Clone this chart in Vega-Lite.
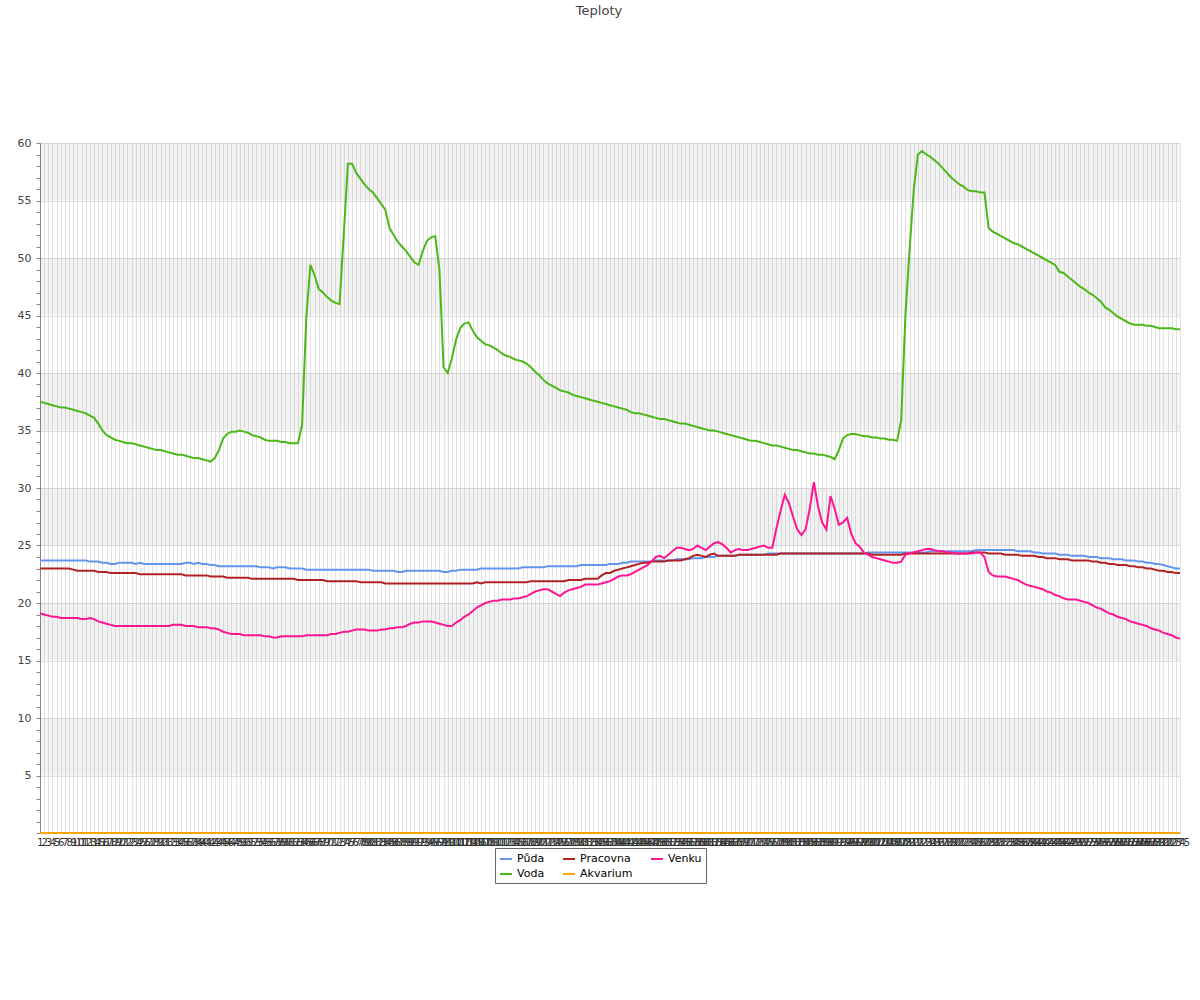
{
"$schema":"https://vega.github.io/schema/vega-lite/v6.json",
"width":1140,"height":690,
"autosize":{"type":"none"},
"padding":{"left":40,"top":143,"right":20,"bottom":167},
"background":"white",
"title":{"text":"Teploty","fontSize":13,"fontWeight":"normal","color":"#444","font":"DejaVu Sans","offset":119,"anchor":"middle","dx":-11},
"config":{"view":{"stroke":null},"font":"DejaVu Sans"},
"layer":[
{"data":{"values":[{"lo":5,"hi":10},{"lo":15,"hi":20},{"lo":25,"hi":30},{"lo":35,"hi":40},{"lo":45,"hi":50},{"lo":55,"hi":60}]},
"mark":{"type":"rect","fill":"#000","fillOpacity":0.05},
"encoding":{"y":{"field":"lo","type":"quantitative","scale":{"domain":[0,60],"nice":false},"axis":{"title":null,"values":[0,1,2,3,4,5,6,7,8,9,10,11,12,13,14,15,16,17,18,19,20,21,22,23,24,25,26,27,28,29,30,31,32,33,34,35,36,37,38,39,40,41,42,43,44,45,46,47,48,49,50,51,52,53,54,55,56,57,58,59,60],"labelExpr":"datum.value % 5 === 0 && datum.value > 0 ? datum.label : ''","grid":true,"gridColor":"#dedede","gridOpacity":{"condition":{"test":"datum.value % 5 === 0","value":1},"value":0},"tickSize":4,"tickColor":"#888","domainColor":"#888","labelFontSize":11,"labelColor":"#444","labelFont":"DejaVu Sans","labelPadding":5}},"y2":{"field":"hi"}}},
{"data":{"values":[
{"i":1,"Půda":23.7,"Voda":37.5,"Pracovna":23.0,"Akvarium":0,"Venku":19.1},
{"i":2,"Půda":23.7,"Voda":37.4,"Pracovna":23.0,"Akvarium":0,"Venku":19.0},
{"i":3,"Půda":23.7,"Voda":37.3,"Pracovna":23.0,"Akvarium":0,"Venku":18.9},
{"i":4,"Půda":23.7,"Voda":37.2,"Pracovna":23.0,"Akvarium":0,"Venku":18.8},
{"i":5,"Půda":23.7,"Voda":37.1,"Pracovna":23.0,"Akvarium":0,"Venku":18.8},
{"i":6,"Půda":23.7,"Voda":37.0,"Pracovna":23.0,"Akvarium":0,"Venku":18.7},
{"i":7,"Půda":23.7,"Voda":37.0,"Pracovna":23.0,"Akvarium":0,"Venku":18.7},
{"i":8,"Půda":23.7,"Voda":36.9,"Pracovna":23.0,"Akvarium":0,"Venku":18.7},
{"i":9,"Půda":23.7,"Voda":36.8,"Pracovna":22.9,"Akvarium":0,"Venku":18.7},
{"i":10,"Půda":23.7,"Voda":36.7,"Pracovna":22.8,"Akvarium":0,"Venku":18.7},
{"i":11,"Půda":23.7,"Voda":36.6,"Pracovna":22.8,"Akvarium":0,"Venku":18.6},
{"i":12,"Půda":23.7,"Voda":36.5,"Pracovna":22.8,"Akvarium":0,"Venku":18.6},
{"i":13,"Půda":23.6,"Voda":36.3,"Pracovna":22.8,"Akvarium":0,"Venku":18.7},
{"i":14,"Půda":23.6,"Voda":36.1,"Pracovna":22.8,"Akvarium":0,"Venku":18.6},
{"i":15,"Půda":23.6,"Voda":35.6,"Pracovna":22.7,"Akvarium":0,"Venku":18.4},
{"i":16,"Půda":23.5,"Voda":35.0,"Pracovna":22.7,"Akvarium":0,"Venku":18.3},
{"i":17,"Půda":23.5,"Voda":34.6,"Pracovna":22.7,"Akvarium":0,"Venku":18.2},
{"i":18,"Půda":23.4,"Voda":34.4,"Pracovna":22.6,"Akvarium":0,"Venku":18.1},
{"i":19,"Půda":23.4,"Voda":34.2,"Pracovna":22.6,"Akvarium":0,"Venku":18.0},
{"i":20,"Půda":23.5,"Voda":34.1,"Pracovna":22.6,"Akvarium":0,"Venku":18.0},
{"i":21,"Půda":23.5,"Voda":34.0,"Pracovna":22.6,"Akvarium":0,"Venku":18.0},
{"i":22,"Půda":23.5,"Voda":33.9,"Pracovna":22.6,"Akvarium":0,"Venku":18.0},
{"i":23,"Půda":23.5,"Voda":33.9,"Pracovna":22.6,"Akvarium":0,"Venku":18.0},
{"i":24,"Půda":23.4,"Voda":33.8,"Pracovna":22.6,"Akvarium":0,"Venku":18.0},
{"i":25,"Půda":23.5,"Voda":33.7,"Pracovna":22.5,"Akvarium":0,"Venku":18.0},
{"i":26,"Půda":23.4,"Voda":33.6,"Pracovna":22.5,"Akvarium":0,"Venku":18.0},
{"i":27,"Půda":23.4,"Voda":33.5,"Pracovna":22.5,"Akvarium":0,"Venku":18.0},
{"i":28,"Půda":23.4,"Voda":33.4,"Pracovna":22.5,"Akvarium":0,"Venku":18.0},
{"i":29,"Půda":23.4,"Voda":33.3,"Pracovna":22.5,"Akvarium":0,"Venku":18.0},
{"i":30,"Půda":23.4,"Voda":33.3,"Pracovna":22.5,"Akvarium":0,"Venku":18.0},
{"i":31,"Půda":23.4,"Voda":33.2,"Pracovna":22.5,"Akvarium":0,"Venku":18.0},
{"i":32,"Půda":23.4,"Voda":33.1,"Pracovna":22.5,"Akvarium":0,"Venku":18.0},
{"i":33,"Půda":23.4,"Voda":33.0,"Pracovna":22.5,"Akvarium":0,"Venku":18.1},
{"i":34,"Půda":23.4,"Voda":32.9,"Pracovna":22.5,"Akvarium":0,"Venku":18.1},
{"i":35,"Půda":23.4,"Voda":32.9,"Pracovna":22.5,"Akvarium":0,"Venku":18.1},
{"i":36,"Půda":23.5,"Voda":32.8,"Pracovna":22.4,"Akvarium":0,"Venku":18.0},
{"i":37,"Půda":23.5,"Voda":32.7,"Pracovna":22.4,"Akvarium":0,"Venku":18.0},
{"i":38,"Půda":23.4,"Voda":32.6,"Pracovna":22.4,"Akvarium":0,"Venku":18.0},
{"i":39,"Půda":23.5,"Voda":32.6,"Pracovna":22.4,"Akvarium":0,"Venku":17.9},
{"i":40,"Půda":23.4,"Voda":32.5,"Pracovna":22.4,"Akvarium":0,"Venku":17.9},
{"i":41,"Půda":23.4,"Voda":32.4,"Pracovna":22.4,"Akvarium":0,"Venku":17.9},
{"i":42,"Půda":23.3,"Voda":32.3,"Pracovna":22.3,"Akvarium":0,"Venku":17.8},
{"i":43,"Půda":23.3,"Voda":32.6,"Pracovna":22.3,"Akvarium":0,"Venku":17.8},
{"i":44,"Půda":23.2,"Voda":33.3,"Pracovna":22.3,"Akvarium":0,"Venku":17.7},
{"i":45,"Půda":23.2,"Voda":34.3,"Pracovna":22.3,"Akvarium":0,"Venku":17.5},
{"i":46,"Půda":23.2,"Voda":34.7,"Pracovna":22.2,"Akvarium":0,"Venku":17.4},
{"i":47,"Půda":23.2,"Voda":34.9,"Pracovna":22.2,"Akvarium":0,"Venku":17.3},
{"i":48,"Půda":23.2,"Voda":34.9,"Pracovna":22.2,"Akvarium":0,"Venku":17.3},
{"i":49,"Půda":23.2,"Voda":35.0,"Pracovna":22.2,"Akvarium":0,"Venku":17.3},
{"i":50,"Půda":23.2,"Voda":34.9,"Pracovna":22.2,"Akvarium":0,"Venku":17.2},
{"i":51,"Půda":23.2,"Voda":34.8,"Pracovna":22.2,"Akvarium":0,"Venku":17.2},
{"i":52,"Půda":23.2,"Voda":34.6,"Pracovna":22.1,"Akvarium":0,"Venku":17.2},
{"i":53,"Půda":23.2,"Voda":34.5,"Pracovna":22.1,"Akvarium":0,"Venku":17.2},
{"i":54,"Půda":23.1,"Voda":34.4,"Pracovna":22.1,"Akvarium":0,"Venku":17.2},
{"i":55,"Půda":23.1,"Voda":34.2,"Pracovna":22.1,"Akvarium":0,"Venku":17.1},
{"i":56,"Půda":23.1,"Voda":34.1,"Pracovna":22.1,"Akvarium":0,"Venku":17.1},
{"i":57,"Půda":23.0,"Voda":34.1,"Pracovna":22.1,"Akvarium":0,"Venku":17.0},
{"i":58,"Půda":23.1,"Voda":34.1,"Pracovna":22.1,"Akvarium":0,"Venku":17.0},
{"i":59,"Půda":23.1,"Voda":34.0,"Pracovna":22.1,"Akvarium":0,"Venku":17.1},
{"i":60,"Půda":23.1,"Voda":34.0,"Pracovna":22.1,"Akvarium":0,"Venku":17.1},
{"i":61,"Půda":23.0,"Voda":33.9,"Pracovna":22.1,"Akvarium":0,"Venku":17.1},
{"i":62,"Půda":23.0,"Voda":33.9,"Pracovna":22.1,"Akvarium":0,"Venku":17.1},
{"i":63,"Půda":23.0,"Voda":33.9,"Pracovna":22.0,"Akvarium":0,"Venku":17.1},
{"i":64,"Půda":23.0,"Voda":35.5,"Pracovna":22.0,"Akvarium":0,"Venku":17.1},
{"i":65,"Půda":22.9,"Voda":44.8,"Pracovna":22.0,"Akvarium":0,"Venku":17.2},
{"i":66,"Půda":22.9,"Voda":49.4,"Pracovna":22.0,"Akvarium":0,"Venku":17.2},
{"i":67,"Půda":22.9,"Voda":48.5,"Pracovna":22.0,"Akvarium":0,"Venku":17.2},
{"i":68,"Půda":22.9,"Voda":47.3,"Pracovna":22.0,"Akvarium":0,"Venku":17.2},
{"i":69,"Půda":22.9,"Voda":47.0,"Pracovna":22.0,"Akvarium":0,"Venku":17.2},
{"i":70,"Půda":22.9,"Voda":46.6,"Pracovna":21.9,"Akvarium":0,"Venku":17.2},
{"i":71,"Půda":22.9,"Voda":46.3,"Pracovna":21.9,"Akvarium":0,"Venku":17.3},
{"i":72,"Půda":22.9,"Voda":46.1,"Pracovna":21.9,"Akvarium":0,"Venku":17.3},
{"i":73,"Půda":22.9,"Voda":46.0,"Pracovna":21.9,"Akvarium":0,"Venku":17.4},
{"i":74,"Půda":22.9,"Voda":52.0,"Pracovna":21.9,"Akvarium":0,"Venku":17.5},
{"i":75,"Půda":22.9,"Voda":58.2,"Pracovna":21.9,"Akvarium":0,"Venku":17.5},
{"i":76,"Půda":22.9,"Voda":58.2,"Pracovna":21.9,"Akvarium":0,"Venku":17.6},
{"i":77,"Půda":22.9,"Voda":57.4,"Pracovna":21.9,"Akvarium":0,"Venku":17.7},
{"i":78,"Půda":22.9,"Voda":56.9,"Pracovna":21.8,"Akvarium":0,"Venku":17.7},
{"i":79,"Půda":22.9,"Voda":56.4,"Pracovna":21.8,"Akvarium":0,"Venku":17.7},
{"i":80,"Půda":22.9,"Voda":56.0,"Pracovna":21.8,"Akvarium":0,"Venku":17.6},
{"i":81,"Půda":22.8,"Voda":55.7,"Pracovna":21.8,"Akvarium":0,"Venku":17.6},
{"i":82,"Půda":22.8,"Voda":55.2,"Pracovna":21.8,"Akvarium":0,"Venku":17.6},
{"i":83,"Půda":22.8,"Voda":54.7,"Pracovna":21.8,"Akvarium":0,"Venku":17.7},
{"i":84,"Půda":22.8,"Voda":54.2,"Pracovna":21.7,"Akvarium":0,"Venku":17.7},
{"i":85,"Půda":22.8,"Voda":52.6,"Pracovna":21.7,"Akvarium":0,"Venku":17.8},
{"i":86,"Půda":22.8,"Voda":52.0,"Pracovna":21.7,"Akvarium":0,"Venku":17.8},
{"i":87,"Půda":22.7,"Voda":51.4,"Pracovna":21.7,"Akvarium":0,"Venku":17.9},
{"i":88,"Půda":22.7,"Voda":51.0,"Pracovna":21.7,"Akvarium":0,"Venku":17.9},
{"i":89,"Půda":22.8,"Voda":50.6,"Pracovna":21.7,"Akvarium":0,"Venku":18.0},
{"i":90,"Půda":22.8,"Voda":50.1,"Pracovna":21.7,"Akvarium":0,"Venku":18.2},
{"i":91,"Půda":22.8,"Voda":49.6,"Pracovna":21.7,"Akvarium":0,"Venku":18.3},
{"i":92,"Půda":22.8,"Voda":49.4,"Pracovna":21.7,"Akvarium":0,"Venku":18.3},
{"i":93,"Půda":22.8,"Voda":50.6,"Pracovna":21.7,"Akvarium":0,"Venku":18.4},
{"i":94,"Půda":22.8,"Voda":51.5,"Pracovna":21.7,"Akvarium":0,"Venku":18.4},
{"i":95,"Půda":22.8,"Voda":51.8,"Pracovna":21.7,"Akvarium":0,"Venku":18.4},
{"i":96,"Půda":22.8,"Voda":51.9,"Pracovna":21.7,"Akvarium":0,"Venku":18.3},
{"i":97,"Půda":22.8,"Voda":49.0,"Pracovna":21.7,"Akvarium":0,"Venku":18.2},
{"i":98,"Půda":22.7,"Voda":40.5,"Pracovna":21.7,"Akvarium":0,"Venku":18.1},
{"i":99,"Půda":22.7,"Voda":40.0,"Pracovna":21.7,"Akvarium":0,"Venku":18.0},
{"i":100,"Půda":22.8,"Voda":41.3,"Pracovna":21.7,"Akvarium":0,"Venku":18.0},
{"i":101,"Půda":22.8,"Voda":42.9,"Pracovna":21.7,"Akvarium":0,"Venku":18.3},
{"i":102,"Půda":22.9,"Voda":43.9,"Pracovna":21.7,"Akvarium":0,"Venku":18.5},
{"i":103,"Půda":22.9,"Voda":44.3,"Pracovna":21.7,"Akvarium":0,"Venku":18.8},
{"i":104,"Půda":22.9,"Voda":44.4,"Pracovna":21.7,"Akvarium":0,"Venku":19.0},
{"i":105,"Půda":22.9,"Voda":43.7,"Pracovna":21.7,"Akvarium":0,"Venku":19.3},
{"i":106,"Půda":22.9,"Voda":43.1,"Pracovna":21.8,"Akvarium":0,"Venku":19.6},
{"i":107,"Půda":23.0,"Voda":42.8,"Pracovna":21.7,"Akvarium":0,"Venku":19.8},
{"i":108,"Půda":23.0,"Voda":42.5,"Pracovna":21.8,"Akvarium":0,"Venku":20.0},
{"i":109,"Půda":23.0,"Voda":42.4,"Pracovna":21.8,"Akvarium":0,"Venku":20.1},
{"i":110,"Půda":23.0,"Voda":42.2,"Pracovna":21.8,"Akvarium":0,"Venku":20.2},
{"i":111,"Půda":23.0,"Voda":42.0,"Pracovna":21.8,"Akvarium":0,"Venku":20.2},
{"i":112,"Půda":23.0,"Voda":41.7,"Pracovna":21.8,"Akvarium":0,"Venku":20.3},
{"i":113,"Půda":23.0,"Voda":41.5,"Pracovna":21.8,"Akvarium":0,"Venku":20.3},
{"i":114,"Půda":23.0,"Voda":41.4,"Pracovna":21.8,"Akvarium":0,"Venku":20.3},
{"i":115,"Půda":23.0,"Voda":41.2,"Pracovna":21.8,"Akvarium":0,"Venku":20.4},
{"i":116,"Půda":23.0,"Voda":41.1,"Pracovna":21.8,"Akvarium":0,"Venku":20.4},
{"i":117,"Půda":23.1,"Voda":41.0,"Pracovna":21.8,"Akvarium":0,"Venku":20.5},
{"i":118,"Půda":23.1,"Voda":40.8,"Pracovna":21.8,"Akvarium":0,"Venku":20.6},
{"i":119,"Půda":23.1,"Voda":40.5,"Pracovna":21.9,"Akvarium":0,"Venku":20.8},
{"i":120,"Půda":23.1,"Voda":40.1,"Pracovna":21.9,"Akvarium":0,"Venku":21.0},
{"i":121,"Půda":23.1,"Voda":39.8,"Pracovna":21.9,"Akvarium":0,"Venku":21.1},
{"i":122,"Půda":23.1,"Voda":39.4,"Pracovna":21.9,"Akvarium":0,"Venku":21.2},
{"i":123,"Půda":23.2,"Voda":39.1,"Pracovna":21.9,"Akvarium":0,"Venku":21.2},
{"i":124,"Půda":23.2,"Voda":38.9,"Pracovna":21.9,"Akvarium":0,"Venku":21.0},
{"i":125,"Půda":23.2,"Voda":38.7,"Pracovna":21.9,"Akvarium":0,"Venku":20.8},
{"i":126,"Půda":23.2,"Voda":38.5,"Pracovna":21.9,"Akvarium":0,"Venku":20.6},
{"i":127,"Půda":23.2,"Voda":38.4,"Pracovna":21.9,"Akvarium":0,"Venku":20.9},
{"i":128,"Půda":23.2,"Voda":38.3,"Pracovna":22.0,"Akvarium":0,"Venku":21.1},
{"i":129,"Půda":23.2,"Voda":38.1,"Pracovna":22.0,"Akvarium":0,"Venku":21.2},
{"i":130,"Půda":23.2,"Voda":38.0,"Pracovna":22.0,"Akvarium":0,"Venku":21.3},
{"i":131,"Půda":23.3,"Voda":37.9,"Pracovna":22.0,"Akvarium":0,"Venku":21.4},
{"i":132,"Půda":23.3,"Voda":37.8,"Pracovna":22.1,"Akvarium":0,"Venku":21.6},
{"i":133,"Půda":23.3,"Voda":37.7,"Pracovna":22.1,"Akvarium":0,"Venku":21.6},
{"i":134,"Půda":23.3,"Voda":37.6,"Pracovna":22.1,"Akvarium":0,"Venku":21.6},
{"i":135,"Půda":23.3,"Voda":37.5,"Pracovna":22.1,"Akvarium":0,"Venku":21.6},
{"i":136,"Půda":23.3,"Voda":37.4,"Pracovna":22.4,"Akvarium":0,"Venku":21.7},
{"i":137,"Půda":23.3,"Voda":37.3,"Pracovna":22.6,"Akvarium":0,"Venku":21.8},
{"i":138,"Půda":23.4,"Voda":37.2,"Pracovna":22.6,"Akvarium":0,"Venku":21.9},
{"i":139,"Půda":23.4,"Voda":37.1,"Pracovna":22.8,"Akvarium":0,"Venku":22.1},
{"i":140,"Půda":23.4,"Voda":37.0,"Pracovna":22.9,"Akvarium":0,"Venku":22.3},
{"i":141,"Půda":23.5,"Voda":36.9,"Pracovna":23.0,"Akvarium":0,"Venku":22.4},
{"i":142,"Půda":23.5,"Voda":36.8,"Pracovna":23.1,"Akvarium":0,"Venku":22.4},
{"i":143,"Půda":23.6,"Voda":36.6,"Pracovna":23.2,"Akvarium":0,"Venku":22.5},
{"i":144,"Půda":23.6,"Voda":36.5,"Pracovna":23.3,"Akvarium":0,"Venku":22.7},
{"i":145,"Půda":23.6,"Voda":36.5,"Pracovna":23.4,"Akvarium":0,"Venku":22.9},
{"i":146,"Půda":23.6,"Voda":36.4,"Pracovna":23.5,"Akvarium":0,"Venku":23.1},
{"i":147,"Půda":23.6,"Voda":36.3,"Pracovna":23.5,"Akvarium":0,"Venku":23.3},
{"i":148,"Půda":23.6,"Voda":36.2,"Pracovna":23.6,"Akvarium":0,"Venku":23.6},
{"i":149,"Půda":23.7,"Voda":36.1,"Pracovna":23.6,"Akvarium":0,"Venku":24.0},
{"i":150,"Půda":23.7,"Voda":36.0,"Pracovna":23.6,"Akvarium":0,"Venku":24.1},
{"i":151,"Půda":23.7,"Voda":36.0,"Pracovna":23.6,"Akvarium":0,"Venku":23.9},
{"i":152,"Půda":23.7,"Voda":35.9,"Pracovna":23.7,"Akvarium":0,"Venku":24.2},
{"i":153,"Půda":23.7,"Voda":35.8,"Pracovna":23.7,"Akvarium":0,"Venku":24.5},
{"i":154,"Půda":23.8,"Voda":35.7,"Pracovna":23.7,"Akvarium":0,"Venku":24.8},
{"i":155,"Půda":23.8,"Voda":35.6,"Pracovna":23.7,"Akvarium":0,"Venku":24.8},
{"i":156,"Půda":23.8,"Voda":35.6,"Pracovna":23.8,"Akvarium":0,"Venku":24.7},
{"i":157,"Půda":23.8,"Voda":35.5,"Pracovna":23.9,"Akvarium":0,"Venku":24.6},
{"i":158,"Půda":23.9,"Voda":35.4,"Pracovna":24.1,"Akvarium":0,"Venku":24.7},
{"i":159,"Půda":23.9,"Voda":35.3,"Pracovna":24.2,"Akvarium":0,"Venku":25.0},
{"i":160,"Půda":23.9,"Voda":35.2,"Pracovna":24.1,"Akvarium":0,"Venku":24.8},
{"i":161,"Půda":24.0,"Voda":35.1,"Pracovna":24.0,"Akvarium":0,"Venku":24.6},
{"i":162,"Půda":24.0,"Voda":35.0,"Pracovna":24.2,"Akvarium":0,"Venku":24.9},
{"i":163,"Půda":24.0,"Voda":35.0,"Pracovna":24.3,"Akvarium":0,"Venku":25.2},
{"i":164,"Půda":24.1,"Voda":34.9,"Pracovna":24.1,"Akvarium":0,"Venku":25.3},
{"i":165,"Půda":24.1,"Voda":34.8,"Pracovna":24.1,"Akvarium":0,"Venku":25.1},
{"i":166,"Půda":24.1,"Voda":34.7,"Pracovna":24.1,"Akvarium":0,"Venku":24.8},
{"i":167,"Půda":24.1,"Voda":34.6,"Pracovna":24.1,"Akvarium":0,"Venku":24.4},
{"i":168,"Půda":24.1,"Voda":34.5,"Pracovna":24.1,"Akvarium":0,"Venku":24.6},
{"i":169,"Půda":24.2,"Voda":34.4,"Pracovna":24.2,"Akvarium":0,"Venku":24.7},
{"i":170,"Půda":24.2,"Voda":34.3,"Pracovna":24.2,"Akvarium":0,"Venku":24.6},
{"i":171,"Půda":24.2,"Voda":34.2,"Pracovna":24.2,"Akvarium":0,"Venku":24.6},
{"i":172,"Půda":24.2,"Voda":34.1,"Pracovna":24.2,"Akvarium":0,"Venku":24.7},
{"i":173,"Půda":24.2,"Voda":34.1,"Pracovna":24.2,"Akvarium":0,"Venku":24.8},
{"i":174,"Půda":24.2,"Voda":34.0,"Pracovna":24.2,"Akvarium":0,"Venku":24.9},
{"i":175,"Půda":24.2,"Voda":33.9,"Pracovna":24.2,"Akvarium":0,"Venku":25.0},
{"i":176,"Půda":24.3,"Voda":33.8,"Pracovna":24.2,"Akvarium":0,"Venku":24.8},
{"i":177,"Půda":24.3,"Voda":33.7,"Pracovna":24.2,"Akvarium":0,"Venku":24.8},
{"i":178,"Půda":24.3,"Voda":33.7,"Pracovna":24.2,"Akvarium":0,"Venku":26.5},
{"i":179,"Půda":24.3,"Voda":33.6,"Pracovna":24.3,"Akvarium":0,"Venku":28.0},
{"i":180,"Půda":24.3,"Voda":33.5,"Pracovna":24.3,"Akvarium":0,"Venku":29.4},
{"i":181,"Půda":24.3,"Voda":33.4,"Pracovna":24.3,"Akvarium":0,"Venku":28.7},
{"i":182,"Půda":24.3,"Voda":33.3,"Pracovna":24.3,"Akvarium":0,"Venku":27.5},
{"i":183,"Půda":24.3,"Voda":33.3,"Pracovna":24.3,"Akvarium":0,"Venku":26.4},
{"i":184,"Půda":24.3,"Voda":33.2,"Pracovna":24.3,"Akvarium":0,"Venku":25.9},
{"i":185,"Půda":24.3,"Voda":33.1,"Pracovna":24.3,"Akvarium":0,"Venku":26.4},
{"i":186,"Půda":24.3,"Voda":33.0,"Pracovna":24.3,"Akvarium":0,"Venku":28.2},
{"i":187,"Půda":24.3,"Voda":33.0,"Pracovna":24.3,"Akvarium":0,"Venku":30.5},
{"i":188,"Půda":24.3,"Voda":32.9,"Pracovna":24.3,"Akvarium":0,"Venku":28.4},
{"i":189,"Půda":24.3,"Voda":32.9,"Pracovna":24.3,"Akvarium":0,"Venku":27.0},
{"i":190,"Půda":24.3,"Voda":32.8,"Pracovna":24.3,"Akvarium":0,"Venku":26.4},
{"i":191,"Půda":24.3,"Voda":32.7,"Pracovna":24.3,"Akvarium":0,"Venku":29.3},
{"i":192,"Půda":24.3,"Voda":32.5,"Pracovna":24.3,"Akvarium":0,"Venku":28.2},
{"i":193,"Půda":24.3,"Voda":33.3,"Pracovna":24.3,"Akvarium":0,"Venku":26.8},
{"i":194,"Půda":24.3,"Voda":34.3,"Pracovna":24.3,"Akvarium":0,"Venku":27.0},
{"i":195,"Půda":24.3,"Voda":34.6,"Pracovna":24.3,"Akvarium":0,"Venku":27.4},
{"i":196,"Půda":24.3,"Voda":34.7,"Pracovna":24.3,"Akvarium":0,"Venku":26.0},
{"i":197,"Půda":24.3,"Voda":34.7,"Pracovna":24.3,"Akvarium":0,"Venku":25.2},
{"i":198,"Půda":24.3,"Voda":34.6,"Pracovna":24.3,"Akvarium":0,"Venku":24.9},
{"i":199,"Půda":24.3,"Voda":34.5,"Pracovna":24.3,"Akvarium":0,"Venku":24.4},
{"i":200,"Půda":24.4,"Voda":34.5,"Pracovna":24.3,"Akvarium":0,"Venku":24.2},
{"i":201,"Půda":24.4,"Voda":34.4,"Pracovna":24.2,"Akvarium":0,"Venku":24.0},
{"i":202,"Půda":24.4,"Voda":34.4,"Pracovna":24.2,"Akvarium":0,"Venku":23.9},
{"i":203,"Půda":24.4,"Voda":34.3,"Pracovna":24.2,"Akvarium":0,"Venku":23.8},
{"i":204,"Půda":24.4,"Voda":34.3,"Pracovna":24.2,"Akvarium":0,"Venku":23.7},
{"i":205,"Půda":24.4,"Voda":34.2,"Pracovna":24.2,"Akvarium":0,"Venku":23.6},
{"i":206,"Půda":24.4,"Voda":34.2,"Pracovna":24.2,"Akvarium":0,"Venku":23.5},
{"i":207,"Půda":24.4,"Voda":34.1,"Pracovna":24.2,"Akvarium":0,"Venku":23.5},
{"i":208,"Půda":24.4,"Voda":35.9,"Pracovna":24.2,"Akvarium":0,"Venku":23.6},
{"i":209,"Půda":24.4,"Voda":45.0,"Pracovna":24.3,"Akvarium":0,"Venku":24.2},
{"i":210,"Půda":24.4,"Voda":50.7,"Pracovna":24.3,"Akvarium":0,"Venku":24.3},
{"i":211,"Půda":24.4,"Voda":55.9,"Pracovna":24.3,"Akvarium":0,"Venku":24.4},
{"i":212,"Půda":24.4,"Voda":59.0,"Pracovna":24.3,"Akvarium":0,"Venku":24.5},
{"i":213,"Půda":24.4,"Voda":59.3,"Pracovna":24.3,"Akvarium":0,"Venku":24.6},
{"i":214,"Půda":24.4,"Voda":59.0,"Pracovna":24.3,"Akvarium":0,"Venku":24.7},
{"i":215,"Půda":24.5,"Voda":58.8,"Pracovna":24.3,"Akvarium":0,"Venku":24.7},
{"i":216,"Půda":24.5,"Voda":58.5,"Pracovna":24.3,"Akvarium":0,"Venku":24.6},
{"i":217,"Půda":24.5,"Voda":58.2,"Pracovna":24.3,"Akvarium":0,"Venku":24.5},
{"i":218,"Půda":24.5,"Voda":57.8,"Pracovna":24.3,"Akvarium":0,"Venku":24.5},
{"i":219,"Půda":24.5,"Voda":57.4,"Pracovna":24.3,"Akvarium":0,"Venku":24.4},
{"i":220,"Půda":24.5,"Voda":57.0,"Pracovna":24.3,"Akvarium":0,"Venku":24.4},
{"i":221,"Půda":24.5,"Voda":56.7,"Pracovna":24.3,"Akvarium":0,"Venku":24.3},
{"i":222,"Půda":24.5,"Voda":56.4,"Pracovna":24.3,"Akvarium":0,"Venku":24.3},
{"i":223,"Půda":24.5,"Voda":56.2,"Pracovna":24.3,"Akvarium":0,"Venku":24.3},
{"i":224,"Půda":24.5,"Voda":55.9,"Pracovna":24.3,"Akvarium":0,"Venku":24.3},
{"i":225,"Půda":24.5,"Voda":55.8,"Pracovna":24.4,"Akvarium":0,"Venku":24.3},
{"i":226,"Půda":24.6,"Voda":55.8,"Pracovna":24.4,"Akvarium":0,"Venku":24.4},
{"i":227,"Půda":24.6,"Voda":55.7,"Pracovna":24.4,"Akvarium":0,"Venku":24.4},
{"i":228,"Půda":24.6,"Voda":55.7,"Pracovna":24.4,"Akvarium":0,"Venku":24.0},
{"i":229,"Půda":24.6,"Voda":52.6,"Pracovna":24.3,"Akvarium":0,"Venku":22.7},
{"i":230,"Půda":24.6,"Voda":52.3,"Pracovna":24.3,"Akvarium":0,"Venku":22.4},
{"i":231,"Půda":24.6,"Voda":52.1,"Pracovna":24.3,"Akvarium":0,"Venku":22.3},
{"i":232,"Půda":24.6,"Voda":51.9,"Pracovna":24.3,"Akvarium":0,"Venku":22.3},
{"i":233,"Půda":24.6,"Voda":51.7,"Pracovna":24.2,"Akvarium":0,"Venku":22.3},
{"i":234,"Půda":24.6,"Voda":51.5,"Pracovna":24.2,"Akvarium":0,"Venku":22.2},
{"i":235,"Půda":24.6,"Voda":51.3,"Pracovna":24.2,"Akvarium":0,"Venku":22.1},
{"i":236,"Půda":24.5,"Voda":51.2,"Pracovna":24.2,"Akvarium":0,"Venku":22.0},
{"i":237,"Půda":24.5,"Voda":51.0,"Pracovna":24.1,"Akvarium":0,"Venku":21.8},
{"i":238,"Půda":24.5,"Voda":50.8,"Pracovna":24.1,"Akvarium":0,"Venku":21.6},
{"i":239,"Půda":24.5,"Voda":50.6,"Pracovna":24.1,"Akvarium":0,"Venku":21.5},
{"i":240,"Půda":24.4,"Voda":50.4,"Pracovna":24.1,"Akvarium":0,"Venku":21.4},
{"i":241,"Půda":24.4,"Voda":50.2,"Pracovna":24.0,"Akvarium":0,"Venku":21.3},
{"i":242,"Půda":24.3,"Voda":50.0,"Pracovna":24.0,"Akvarium":0,"Venku":21.2},
{"i":243,"Půda":24.3,"Voda":49.8,"Pracovna":23.9,"Akvarium":0,"Venku":21.0},
{"i":244,"Půda":24.3,"Voda":49.6,"Pracovna":23.9,"Akvarium":0,"Venku":20.9},
{"i":245,"Půda":24.3,"Voda":49.4,"Pracovna":23.9,"Akvarium":0,"Venku":20.7},
{"i":246,"Půda":24.2,"Voda":48.8,"Pracovna":23.8,"Akvarium":0,"Venku":20.6},
{"i":247,"Půda":24.2,"Voda":48.7,"Pracovna":23.8,"Akvarium":0,"Venku":20.4},
{"i":248,"Půda":24.2,"Voda":48.4,"Pracovna":23.8,"Akvarium":0,"Venku":20.3},
{"i":249,"Půda":24.1,"Voda":48.1,"Pracovna":23.7,"Akvarium":0,"Venku":20.3},
{"i":250,"Půda":24.1,"Voda":47.8,"Pracovna":23.7,"Akvarium":0,"Venku":20.3},
{"i":251,"Půda":24.1,"Voda":47.5,"Pracovna":23.7,"Akvarium":0,"Venku":20.2},
{"i":252,"Půda":24.1,"Voda":47.3,"Pracovna":23.7,"Akvarium":0,"Venku":20.1},
{"i":253,"Půda":24.0,"Voda":47.0,"Pracovna":23.7,"Akvarium":0,"Venku":20.0},
{"i":254,"Půda":24.0,"Voda":46.8,"Pracovna":23.6,"Akvarium":0,"Venku":19.8},
{"i":255,"Půda":24.0,"Voda":46.5,"Pracovna":23.6,"Akvarium":0,"Venku":19.6},
{"i":256,"Půda":23.9,"Voda":46.2,"Pracovna":23.5,"Akvarium":0,"Venku":19.5},
{"i":257,"Půda":23.9,"Voda":45.7,"Pracovna":23.5,"Akvarium":0,"Venku":19.3},
{"i":258,"Půda":23.9,"Voda":45.5,"Pracovna":23.4,"Akvarium":0,"Venku":19.1},
{"i":259,"Půda":23.8,"Voda":45.2,"Pracovna":23.4,"Akvarium":0,"Venku":19.0},
{"i":260,"Půda":23.8,"Voda":44.9,"Pracovna":23.3,"Akvarium":0,"Venku":18.8},
{"i":261,"Půda":23.8,"Voda":44.7,"Pracovna":23.3,"Akvarium":0,"Venku":18.7},
{"i":262,"Půda":23.7,"Voda":44.5,"Pracovna":23.3,"Akvarium":0,"Venku":18.6},
{"i":263,"Půda":23.7,"Voda":44.3,"Pracovna":23.2,"Akvarium":0,"Venku":18.4},
{"i":264,"Půda":23.7,"Voda":44.2,"Pracovna":23.2,"Akvarium":0,"Venku":18.3},
{"i":265,"Půda":23.6,"Voda":44.2,"Pracovna":23.1,"Akvarium":0,"Venku":18.2},
{"i":266,"Půda":23.6,"Voda":44.2,"Pracovna":23.1,"Akvarium":0,"Venku":18.1},
{"i":267,"Půda":23.5,"Voda":44.1,"Pracovna":23.0,"Akvarium":0,"Venku":18.0},
{"i":268,"Půda":23.5,"Voda":44.1,"Pracovna":23.0,"Akvarium":0,"Venku":17.8},
{"i":269,"Půda":23.4,"Voda":44.0,"Pracovna":22.9,"Akvarium":0,"Venku":17.7},
{"i":270,"Půda":23.4,"Voda":43.9,"Pracovna":22.8,"Akvarium":0,"Venku":17.6},
{"i":271,"Půda":23.3,"Voda":43.9,"Pracovna":22.8,"Akvarium":0,"Venku":17.4},
{"i":272,"Půda":23.2,"Voda":43.9,"Pracovna":22.7,"Akvarium":0,"Venku":17.3},
{"i":273,"Půda":23.1,"Voda":43.9,"Pracovna":22.7,"Akvarium":0,"Venku":17.2},
{"i":274,"Půda":23.0,"Voda":43.8,"Pracovna":22.6,"Akvarium":0,"Venku":17.0},
{"i":275,"Půda":23.0,"Voda":43.8,"Pracovna":22.6,"Akvarium":0,"Venku":16.9}
]},
"transform":[{"fold":["Půda","Voda","Pracovna","Akvarium","Venku"],"as":["serie","teplota"]}],
"mark":{"type":"line","strokeWidth":2},
"encoding":{
"x":{"field":"i","type":"ordinal","sort":"ascending","scale":{"type":"point","padding":0},"axis":{"title":null,"labelAngle":0,"labelOverlap":false,"labelFontSize":10,"labelFont":"DejaVu Sans","labelColor":"#333","labelPadding":4,"grid":true,"gridColor":"#e4e4e4","ticks":false,"domainColor":"#888"}},
"y":{"field":"teplota","type":"quantitative","scale":{"domain":[0,60],"nice":false},"axis":{"title":null,"values":[0,1,2,3,4,5,6,7,8,9,10,11,12,13,14,15,16,17,18,19,20,21,22,23,24,25,26,27,28,29,30,31,32,33,34,35,36,37,38,39,40,41,42,43,44,45,46,47,48,49,50,51,52,53,54,55,56,57,58,59,60],"labelExpr":"datum.value % 5 === 0 && datum.value > 0 ? datum.label : ''","grid":true,"gridColor":"#dedede","gridOpacity":{"condition":{"test":"datum.value % 5 === 0","value":1},"value":0},"tickSize":4,"tickColor":"#888","domainColor":"#888","labelFontSize":11,"labelColor":"#444","labelFont":"DejaVu Sans","labelPadding":5}},
"color":{"field":"serie","type":"nominal","scale":{"domain":["Půda","Pracovna","Venku","Voda","Akvarium"],"range":["#6495ED","#B22222","#FF1493","#4CB817","#FFA500"]},
"legend":{"title":null,"orient":"none","legendX":455,"legendY":705,"direction":"horizontal","columns":3,"symbolType":"stroke","symbolSize":144,"symbolStrokeWidth":2,"labelFontSize":11,"labelFont":"DejaVu Sans","labelColor":"#000","padding":4,"strokeColor":"#666","fillColor":"white","rowPadding":3,"columnPadding":14}}
}}
]
}
